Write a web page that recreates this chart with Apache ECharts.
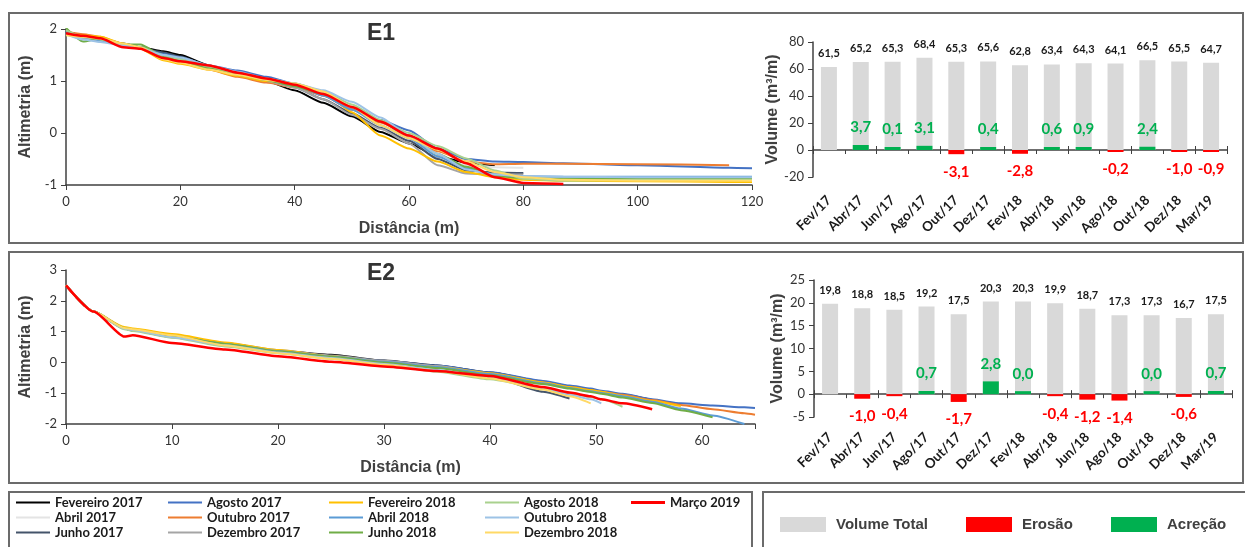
<!DOCTYPE html>
<html><head><meta charset="utf-8">
<script src="https://cdn.jsdelivr.net/npm/echarts@6/dist/echarts.min.js"></script>
<style>html,body{margin:0;padding:0;background:#fff}#c{width:1245px;height:547px}</style>
</head><body><div id="c"></div>
<script>
// ---------- DATA ----------
const surveys = ['Fevereiro 2017','Abril 2017','Junho 2017','Agosto 2017','Outubro 2017','Dezembro 2017','Fevereiro 2018','Abril 2018','Junho 2018','Agosto 2018','Outubro 2018','Dezembro 2018','Março 2019'];
const surveyColors = ['#000000','#e4e4e4','#44546a','#4472c4','#ed7d31','#a5a5a5','#ffc000','#5b9bd5','#70ad47','#a9d18e','#9dc3e6','#ffd966','#ff0000'];
const months = ['Fev/17','Abr/17','Jun/17','Ago/17','Out/17','Dez/17','Fev/18','Abr/18','Jun/18','Ago/18','Out/18','Dez/18','Mar/19'];

// E1 profiles (distance m, altimetry m)
const e1Dist = [0,3,6,10,13,17,20,25,30,35,40,45,50,55,60,65,70,75,80,87,100,116,120];
const e1Fev17 = [1.95,1.88,1.82,1.72,1.65,1.57,1.5,1.3,1.15,1.0,0.82,0.58,0.32,0.02,-0.2,-0.45,-0.57,-0.62,null,null,null,null,null];
const e1Abr17 = [1.92,1.85,1.8,1.7,1.64,1.52,1.45,1.28,1.14,1.0,0.86,0.64,0.38,0.1,-0.15,-0.45,-0.62,-0.66,-0.67,null,null,null,null];
const e1Jun17 = [1.95,1.85,1.8,1.7,1.63,1.55,1.47,1.28,1.15,1.02,0.88,0.65,0.38,0.1,-0.15,-0.5,-0.72,-0.76,-0.77,null,null,null,null];
const e1Ago17 = [1.95,1.88,1.8,1.7,1.65,1.52,1.45,1.3,1.2,1.08,0.95,0.72,0.45,0.25,0.05,-0.3,-0.5,-0.55,-0.56,-0.58,-0.62,-0.67,-0.68];
const e1Out17 = [1.95,1.9,1.85,1.7,1.65,1.45,1.38,1.22,1.08,0.97,0.88,0.72,0.45,0.2,-0.05,-0.35,-0.55,-0.6,-0.59,-0.59,-0.6,-0.62,null];
const e1Dez17 = [1.9,1.82,1.78,1.68,1.63,1.5,1.4,1.25,1.12,1.0,0.88,0.65,0.35,0.08,-0.2,-0.62,-0.78,-0.8,-0.8,null,null,null,null];
const e1Fev18 = [1.9,1.88,1.85,1.72,1.62,1.4,1.33,1.22,1.1,1.0,0.95,0.8,0.4,-0.05,-0.3,-0.55,-0.75,-0.85,-0.9,-0.92,-0.93,-0.94,-0.94];
const e1Abr18 = [1.95,1.85,1.78,1.7,1.65,1.5,1.42,1.28,1.15,1.02,0.92,0.72,0.45,0.15,-0.1,-0.45,-0.68,-0.8,-0.83,-0.84,-0.84,-0.84,-0.84];
const e1Jun18 = [2.02,1.76,1.82,1.7,1.7,1.48,1.38,1.25,1.12,1.02,0.9,0.75,0.5,0.22,-0.05,-0.4,-0.65,-0.82,-0.87,-0.88,-0.88,-0.88,-0.88];
const e1Ago18 = [1.98,1.85,1.8,1.7,1.65,1.5,1.42,1.28,1.15,1.05,0.95,0.8,0.55,0.25,0.0,-0.25,-0.49,-0.72,-0.88,-0.92,-0.9,-0.9,-0.9];
const e1Out18 = [1.9,1.8,1.75,1.68,1.63,1.5,1.45,1.3,1.18,1.05,0.95,0.82,0.6,0.3,-0.05,-0.4,-0.7,-0.8,-0.83,-0.84,-0.85,-0.85,-0.85];
const e1Dez18 = [1.88,1.85,1.82,1.72,1.65,1.42,1.35,1.22,1.12,1.02,0.95,0.8,0.5,0.15,-0.1,-0.32,-0.55,-0.75,-0.85,-0.9,-0.92,-0.92,-0.92];
const e1Mar19 = [1.92,1.87,1.82,1.65,1.62,1.44,1.38,1.3,1.16,1.05,0.93,0.75,0.5,0.22,-0.05,-0.3,-0.58,-0.85,-0.96,-0.98,null,null,null];

// E2 profiles
const e2Dist = [0,2.6,5.5,6.3,10,15,20,25,30,35,40,45,47.5,49.5,50.5,52.5,55.3,58,61,64,65];
const e2Fev17 = [2.5,1.65,1.1,1.04,0.85,0.62,0.38,0.25,0.06,-0.1,-0.33,-0.62,-0.78,-0.9,-0.95,-1.05,-1.22,null,null,null,null];
const e2Abr17 = [2.5,1.65,1.1,1.05,0.85,0.6,0.35,0.18,0.0,-0.2,-0.42,-0.7,-0.85,-0.95,-1.0,-1.1,-1.27,-1.45,null,null,null];
const e2Jun17 = [2.5,1.65,1.1,1.04,0.82,0.58,0.35,0.18,0.0,-0.12,-0.45,-0.95,-1.17,null,null,null,null,null,null,null,null];
const e2Ago17 = [2.5,1.65,1.12,1.06,0.85,0.6,0.38,0.2,0.05,-0.1,-0.32,-0.6,-0.75,-0.85,-0.92,-1.02,-1.2,-1.33,-1.4,-1.46,-1.48];
const e2Out17 = [2.5,1.65,1.1,1.05,0.83,0.58,0.35,0.18,0.02,-0.15,-0.38,-0.65,-0.8,-0.9,-0.95,-1.05,-1.22,-1.38,-1.52,-1.65,-1.7];
const e2Dez17 = [2.5,1.65,1.1,1.05,0.88,0.63,0.4,0.22,0.05,-0.12,-0.38,-0.66,-0.82,-0.93,-0.98,-1.1,-1.3,-1.55,null,null,null];
const e2Fev18 = [2.5,1.65,1.15,1.1,0.92,0.65,0.4,0.2,0.0,-0.15,-0.35,-0.65,-0.8,-0.9,-0.95,-1.08,-1.25,-1.42,null,null,null];
const e2Abr18 = [2.5,1.65,1.1,1.05,0.85,0.6,0.37,0.19,0.02,-0.15,-0.38,-0.68,-0.83,-0.94,-0.99,-1.1,-1.28,-1.5,-1.72,-2.0,null];
const e2Jun18 = [2.5,1.65,1.12,1.06,0.85,0.6,0.36,0.18,0.0,-0.18,-0.42,-0.7,-0.85,-0.96,-1.02,-1.14,-1.32,-1.55,-1.78,null,null];
const e2Ago18 = [2.5,1.65,1.08,1.02,0.8,0.52,0.3,0.12,-0.08,-0.3,-0.55,-0.85,-1.0,-1.12,-1.2,-1.44,null,null,null,null,null];
const e2Out18 = [2.5,1.65,1.1,1.05,0.82,0.56,0.32,0.14,-0.05,-0.25,-0.5,-0.85,-1.05,-1.2,-1.33,null,null,null,null,null,null];
const e2Dez18 = [2.5,1.65,1.12,1.08,0.88,0.55,0.3,0.12,-0.08,-0.28,-0.52,-0.88,-1.1,-1.33,null,null,null,null,null,null,null];
const e2Mar19 = [2.5,1.65,0.84,0.88,0.63,0.42,0.2,0.02,-0.13,-0.28,-0.44,-0.8,-0.98,-1.1,-1.2,-1.33,-1.52,null,null,null,null];

// Volumes (m3/m)
const e1Total  = [61.5,65.2,65.3,68.4,65.3,65.6,62.8,63.4,64.3,64.1,66.5,65.5,64.7];
const e1Change = [null,3.7,0.1,3.1,-3.1,0.4,-2.8,0.6,0.9,-0.2,2.4,-1.0,-0.9];
const e2Total  = [19.8,18.8,18.5,19.2,17.5,20.3,20.3,19.9,18.7,17.3,17.3,16.7,17.5];
const e2Change = [null,-1.0,-0.4,0.7,-1.7,2.8,0.0,-0.4,-1.2,-1.4,0.0,-0.6,0.7];

// Axis ticks
const e1XTicks = {min:0, max:120, interval:20};
const e1YTicks = {min:-1, max:2, interval:1};
const e2XTicks = {min:0, max:65, interval:10};
const e2YTicks = {min:-2, max:3, interval:1};
const e1VTicks = {min:-20, max:80, interval:20};
const e2VTicks = {min:-5, max:25, interval:5};

// ---------- BUILD ----------
const e1Profiles = [e1Fev17,e1Abr17,e1Jun17,e1Ago17,e1Out17,e1Dez17,e1Fev18,e1Abr18,e1Jun18,e1Ago18,e1Out18,e1Dez18,e1Mar19];
const e2Profiles = [e2Fev17,e2Abr17,e2Jun17,e2Ago17,e2Out17,e2Dez17,e2Fev18,e2Abr18,e2Jun18,e2Ago18,e2Out18,e2Dez18,e2Mar19];
const pairs = (xs, ys) => xs.map((x,i)=>[x, ys[i]]).filter(p=>p[1]!==null);
const fmt = v => v.toFixed(1).replace('.', ',');
const TICK = "Lato, 'Noto Sans', sans-serif";
const HEAD = "'Liberation Sans', Arial, sans-serif";
const axisCol = '#404040';

function lineSeries(profiles, dist, xi, yi) {
  return profiles.map((p, k) => ({
    name: surveys[k], type: 'line', xAxisIndex: xi, yAxisIndex: yi,
    data: pairs(dist, p), showSymbol: false, symbol: 'none', smooth: 0.2, smoothMonotone: 'x',
    color: surveyColors[k],
    lineStyle: {color: surveyColors[k], width: k === 12 ? 2.5 : 2},
    z: 2 + k, silent: true
  }));
}
function barSeries(total, change, xi, yi) {
  const ero = change.map(v => v !== null && v < 0 ? v : null);
  const acc = change.map(v => v !== null && v >= 0 ? v : null);
  return [
    {name:'Volume Total', type:'bar', xAxisIndex:xi, yAxisIndex:yi, data: total, barWidth: 16, barGap:'-100%',
     color:'#d9d9d9', itemStyle:{color:'#d9d9d9'},
     label:{show:true, position:'top', distance:8, formatter:p=>fmt(p.value), fontFamily:TICK, fontWeight:'bold', fontSize:11, color:'#1a1a1a'}},
    {name:'Erosão', type:'bar', xAxisIndex:xi, yAxisIndex:yi, data: ero, barWidth: 16, barGap:'-100%', barMinHeight:2,
     color:'#ff0000', itemStyle:{color:'#ff0000'},
     label:{show:true, position:'bottom', distance:10, formatter:p=>fmt(p.value), fontFamily:TICK, fontWeight:'bold', fontSize:15, color:'#ff0000'}},
    {name:'Acreção', type:'bar', xAxisIndex:xi, yAxisIndex:yi, data: acc, barWidth: 16, barGap:'-100%', barMinHeight:3,
     color:'#00b050', itemStyle:{color:'#00b050'},
     label:{show:true, position:'top', distance:10, formatter:p=>fmt(p.value), fontFamily:TICK, fontWeight:'bold', fontSize:15, color:'#00b050'}}
  ];
}
function valueX(grid, t, name) {
  return {type:'value', gridIndex:grid, min:t.min, max:t.max, interval:t.interval,
    axisLine:{onZero:false, lineStyle:{color:axisCol, width:1.5}},
    axisTick:{show:true, length:5, lineStyle:{color:axisCol}},
    splitLine:{show:false},
    axisLabel:{fontFamily:TICK, fontSize:13, color:'#333', margin:10,
      formatter: v => (v % t.interval === 0 ? String(v) : '')},
    name:name, nameLocation:'middle', nameGap:36,
    nameTextStyle:{fontFamily:HEAD, fontWeight:'bold', fontSize:16, color:'#404040'}};
}
function valueY(grid, t, name, gap) {
  return {type:'value', gridIndex:grid, min:t.min, max:t.max, interval:t.interval,
    axisLine:{show:true, onZero:false, lineStyle:{color:axisCol, width:1.5}},
    axisTick:{show:true, length:5, lineStyle:{color:axisCol}},
    splitLine:{show:false},
    axisLabel:{fontFamily:TICK, fontSize:13, color:'#333', margin:9},
    name:name, nameLocation:'middle', nameGap:gap,
    nameTextStyle:{fontFamily:HEAD, fontWeight:'bold', fontSize:16, color:'#404040'}};
}
function catAxes(grid, yIdx, margin) {
  return [
    {type:'category', gridIndex:grid, data:months, position:'bottom',
     axisLine:{onZero:true, onZeroAxisIndex:yIdx, lineStyle:{color:axisCol, width:1.5}},
     axisTick:{show:true, length:4, lineStyle:{color:axisCol}},
     axisLabel:{interval:0, rotate:45, margin:margin, fontFamily:TICK, fontWeight:'bold', fontSize:13.5, color:'#1a1a1a'}},
    {type:'category', gridIndex:grid, data:months, position:'top',
     axisLine:{show:false, onZero:true, onZeroAxisIndex:yIdx},
     axisTick:{show:true, length:4, lineStyle:{color:axisCol}},
     axisLabel:{show:false}}
  ];
}

const legendText = {fontFamily:TICK, fontWeight:'bold', fontSize:13, color:'#1a1a1a'};
const legendCols = [[0,1,2],[3,4,5],[6,7,8],[9,10,11],[12]];
const legendLefts = [16,168,329,485,631];
const leftLegends = legendCols.map((col, c) => ({
  orient:'vertical', left: legendLefts[c], top: 496, padding:0, itemGap:2,
  icon:'rect', itemWidth:34, itemHeight: c === 4 ? 3 : 2, selectedMode:false,
  data: col.map(k => ({name: surveys[k], itemStyle:{color: surveyColors[k]}})),
  textStyle: legendText
}));
const rightLegendNames = ['Volume Total','Erosão','Acreção'];
const rightLegendColors = ['#d9d9d9','#ff0000','#00b050'];
const rightLegendLefts = [780, 966, 1111];
const rightLegends = rightLegendNames.map((n, i) => ({
  orient:'horizontal', left: rightLegendLefts[i], top: 517, padding:0,
  icon:'rect', itemWidth:46, itemHeight:15, selectedMode:false,
  data:[{name:n, itemStyle:{color: rightLegendColors[i]}}],
  textStyle:{fontFamily:HEAD, fontWeight:'bold', fontSize:15, color:'#404040', padding:[0,0,0,5]}
}));

const option = {
  animation:false,
  backgroundColor:'#ffffff',
  title:[
    {text:'E1', left:367, top:22, padding:0, textStyle:{fontFamily:HEAD, fontWeight:'bold', fontSize:23, color:'#333'}},
    {text:'E2', left:367, top:262, padding:0, textStyle:{fontFamily:HEAD, fontWeight:'bold', fontSize:23, color:'#333'}}
  ],
  legend: leftLegends.concat(rightLegends),
  grid:[
    {left:66, top:29, width:686, height:156},
    {left:813, top:42, width:414, height:135},
    {left:66, top:270, width:689, height:154},
    {left:814, top:280, width:418, height:137}
  ],
  xAxis:[
    valueX(0, e1XTicks, 'Distância (m)'),
    ...catAxes(1, 1, 21),
    valueX(2, e2XTicks, 'Distância (m)'),
    ...catAxes(3, 3, 18)
  ],
  yAxis:[
    valueY(0, e1YTicks, 'Altimetria (m)', 30),
    valueY(1, e1VTicks, 'Volume (m³/m)', 28),
    valueY(2, e2YTicks, 'Altimetria (m)', 30),
    valueY(3, e2VTicks, 'Volume (m³/m)', 28)
  ],
  graphic:[
    {type:'rect', shape:{x:9, y:13, width:1234, height:230}, style:{fill:'none', stroke:'#6b6b6b', lineWidth:2}, silent:true},
    {type:'rect', shape:{x:9, y:252, width:1234, height:231}, style:{fill:'none', stroke:'#6b6b6b', lineWidth:2}, silent:true},
    {type:'rect', shape:{x:9, y:492, width:743, height:70}, style:{fill:'none', stroke:'#6b6b6b', lineWidth:2}, silent:true},
    {type:'rect', shape:{x:763, y:492, width:490, height:70}, style:{fill:'none', stroke:'#6b6b6b', lineWidth:2}, silent:true}
  ],
  series:[
    ...lineSeries(e1Profiles, e1Dist, 0, 0),
    ...barSeries(e1Total, e1Change, 1, 1),
    ...lineSeries(e2Profiles, e2Dist, 3, 2),
    ...barSeries(e2Total, e2Change, 4, 3)
  ]
};
const chart = echarts.init(document.getElementById('c'), null, {renderer:'canvas'});
chart.setOption(option);
</script>
</body></html>
